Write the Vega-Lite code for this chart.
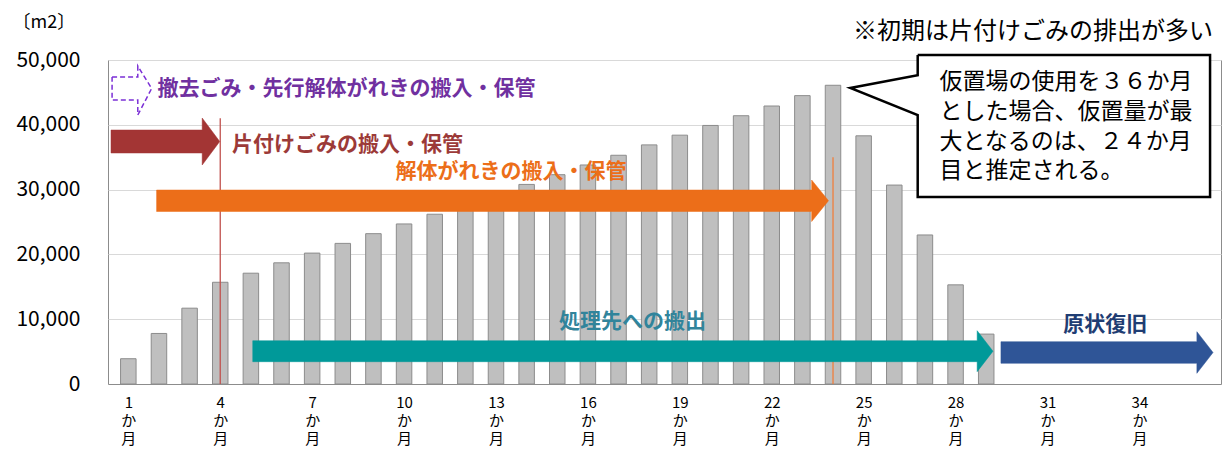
{
  "$schema": "https://vega.github.io/schema/vega-lite/v6.json",
  "width": 1113,
  "height": 324,
  "autosize": {"type": "none"},
  "padding": {"left": 108, "top": 60, "right": 2, "bottom": 68},
  "background": "white",
  "config": {
    "font": "Noto Sans CJK JP",
    "view": {"stroke": "#8c8c8c", "strokeWidth": 1}
  },
  "resolve": {"scale": {"color": "independent"}},
  "datasets": {
    "bars": [
      {"x": 1, "y": 3900}, {"x": 2, "y": 7800}, {"x": 3, "y": 11700}, {"x": 4, "y": 15700},
      {"x": 5, "y": 17100}, {"x": 6, "y": 18700}, {"x": 7, "y": 20200}, {"x": 8, "y": 21700},
      {"x": 9, "y": 23200}, {"x": 10, "y": 24700}, {"x": 11, "y": 26200}, {"x": 12, "y": 27700},
      {"x": 13, "y": 29200}, {"x": 14, "y": 30800}, {"x": 15, "y": 32300}, {"x": 16, "y": 33800},
      {"x": 17, "y": 35300}, {"x": 18, "y": 36900}, {"x": 19, "y": 38400}, {"x": 20, "y": 39900},
      {"x": 21, "y": 41400}, {"x": 22, "y": 42900}, {"x": 23, "y": 44500}, {"x": 24, "y": 46100},
      {"x": 25, "y": 38300}, {"x": 26, "y": 30700}, {"x": 27, "y": 23000}, {"x": 28, "y": 15300},
      {"x": 29, "y": 7700}
    ],
    "vlines": [
      {"x": 4, "y": 0, "y2": 41000, "k": "red"},
      {"x": 24, "y": 0, "y2": 35000, "k": "orange"}
    ],
    "arrows": [
      {"a": "purple", "i": 1, "x": 0.47, "y": 47376},
      {"a": "purple", "i": 2, "x": 1.309, "y": 47376},
      {"a": "purple", "i": 3, "x": 1.309, "y": 49074},
      {"a": "purple", "i": 4, "x": 1.761, "y": 45602},
      {"a": "purple", "i": 5, "x": 1.309, "y": 41512},
      {"a": "purple", "i": 6, "x": 1.309, "y": 43827},
      {"a": "purple", "i": 7, "x": 0.47, "y": 43827},
      {"a": "purple", "i": 8, "x": 0.47, "y": 47376},

      {"a": "red", "i": 1, "x": 0.435, "y": 39197},
      {"a": "red", "i": 2, "x": 3.411, "y": 39197},
      {"a": "red", "i": 3, "x": 3.411, "y": 41049},
      {"a": "red", "i": 4, "x": 3.984, "y": 37422},
      {"a": "red", "i": 5, "x": 3.411, "y": 33796},
      {"a": "red", "i": 6, "x": 3.411, "y": 35648},
      {"a": "red", "i": 7, "x": 0.435, "y": 35648},
      {"a": "red", "i": 8, "x": 0.435, "y": 39197},

      {"a": "orange", "i": 1, "x": 1.923, "y": 29938},
      {"a": "orange", "i": 2, "x": 23.303, "y": 29938},
      {"a": "orange", "i": 3, "x": 23.303, "y": 31481},
      {"a": "orange", "i": 4, "x": 23.853, "y": 28287},
      {"a": "orange", "i": 5, "x": 23.303, "y": 25077},
      {"a": "orange", "i": 6, "x": 23.303, "y": 26620},
      {"a": "orange", "i": 7, "x": 1.923, "y": 26620},
      {"a": "orange", "i": 8, "x": 1.923, "y": 29938},

      {"a": "teal", "i": 1, "x": 5.061, "y": 6682},
      {"a": "teal", "i": 2, "x": 28.705, "y": 6682},
      {"a": "teal", "i": 3, "x": 28.705, "y": 8225},
      {"a": "teal", "i": 4, "x": 29.222, "y": 5062},
      {"a": "teal", "i": 5, "x": 28.705, "y": 1898},
      {"a": "teal", "i": 6, "x": 28.705, "y": 3441},
      {"a": "teal", "i": 7, "x": 5.061, "y": 3441},
      {"a": "teal", "i": 8, "x": 5.061, "y": 6682},

      {"a": "blue", "i": 1, "x": 29.481, "y": 6528},
      {"a": "blue", "i": 2, "x": 35.876, "y": 6528},
      {"a": "blue", "i": 3, "x": 35.876, "y": 8071},
      {"a": "blue", "i": 4, "x": 36.403, "y": 4861},
      {"a": "blue", "i": 5, "x": 35.876, "y": 1651},
      {"a": "blue", "i": 6, "x": 35.876, "y": 3194},
      {"a": "blue", "i": 7, "x": 29.481, "y": 3194},
      {"a": "blue", "i": 8, "x": 29.481, "y": 6528},

      {"a": "callout", "i": 1, "x": 26.764, "y": 50771},
      {"a": "callout", "i": 2, "x": 36.306, "y": 50771},
      {"a": "callout", "i": 3, "x": 36.306, "y": 28858},
      {"a": "callout", "i": 4, "x": 26.764, "y": 28858},
      {"a": "callout", "i": 5, "x": 26.764, "y": 41512},
      {"a": "callout", "i": 6, "x": 24.565, "y": 45679},
      {"a": "callout", "i": 7, "x": 26.764, "y": 47654},
      {"a": "callout", "i": 8, "x": 26.764, "y": 50771}
    ],
    "labels": [
      {"k": "purple", "x": 1.956, "y": 45524, "text": "撤去ごみ・先行解体がれきの搬入・保管"},
      {"k": "red", "x": 4.381, "y": 36900, "text": "片付けごみの搬入・保管"},
      {"k": "orange", "x": 9.718, "y": 32716, "text": "解体がれきの搬入・保管"},
      {"k": "teal", "x": 15.055, "y": 9568, "text": "処理先への搬出"},
      {"k": "blue", "x": 31.518, "y": 9105, "text": "原状復旧"}
    ],
    "callout": [
      {"x": 27.476, "y": 46605, "text": "仮置場の使用を３６か月"},
      {"x": 27.476, "y": 41975, "text": "とした場合、仮置量が最"},
      {"x": 27.476, "y": 37345, "text": "大となるのは、２４か月"},
      {"x": 27.476, "y": 32870, "text": "目と推定される。"}
    ],
    "note": [
      {"x": 36.403, "y": 54321, "text": "※初期は片付けごみの排出が多い"}
    ]
  },
  "encoding": {
    "x": {
      "field": "x", "type": "quantitative",
      "scale": {"domain": [0.5, 36.5], "nice": false, "zero": false},
      "axis": {
        "title": null,
        "values": [1, 4, 7, 10, 13, 16, 19, 22, 25, 28, 31, 34],
        "labelExpr": "[format(datum.value, 'd'), 'か', '月']",
        "labelFontSize": 15,
        "labelLineHeight": 18,
        "labelBaseline": "top",
        "labelAngle": 0,
        "labelPadding": 11,
        "labelColor": "#000000",
        "labelFlush": false,
        "labelOverlap": false,
        "ticks": false,
        "grid": false,
        "domainColor": "#8c8c8c"
      }
    },
    "y": {
      "field": "y", "type": "quantitative",
      "scale": {"domain": [0, 50000], "nice": false, "zero": true},
      "axis": {
        "title": "〔m2〕",
        "titleAngle": 0,
        "titleX": -96,
        "titleY": -38,
        "titleAlign": "left",
        "titleBaseline": "middle",
        "titleFontSize": 18,
        "titleFontWeight": "normal",
        "titleColor": "#000000",
        "values": [0, 10000, 20000, 30000, 40000, 50000],
        "labelExpr": "format(datum.value, ',')",
        "labelFontSize": 21,
        "labelColor": "#000000",
        "labelPadding": 28,
        "labelFlush": false,
        "ticks": false,
        "domain": false,
        "grid": true,
        "gridColor": "#d9d9d9",
        "gridWidth": 1
      }
    }
  },
  "layer": [
    {
      "data": {"name": "bars"},
      "mark": {"type": "bar", "size": 15.5, "fill": "#bfbfbf", "stroke": "#8c8c8c", "strokeWidth": 1}
    },
    {
      "data": {"name": "vlines"},
      "mark": {"type": "rule", "strokeWidth": 1.3},
      "encoding": {
        "y2": {"field": "y2"},
        "color": {"field": "k", "type": "nominal", "legend": null,
          "scale": {"domain": ["red", "orange"], "range": ["#c0504d", "#f07f3c"]}}
      }
    },
    {
      "data": {"name": "arrows"},
      "transform": [{"filter": {"field": "a", "equal": "purple"}}],
      "mark": {"type": "line", "stroke": "#7b2fd6", "strokeWidth": 1.5, "strokeDash": [5, 3], "fill": null, "interpolate": "linear"},
      "encoding": {"order": {"field": "i", "type": "quantitative"}}
    },
    {
      "data": {"name": "arrows"},
      "transform": [{"filter": {"field": "a", "equal": "red"}}],
      "mark": {"type": "line", "stroke": "#a33534", "strokeWidth": 0.5, "fill": "#a33534"},
      "encoding": {"order": {"field": "i", "type": "quantitative"}}
    },
    {
      "data": {"name": "arrows"},
      "transform": [{"filter": {"field": "a", "equal": "orange"}}],
      "mark": {"type": "line", "stroke": "#ec6e19", "strokeWidth": 0.5, "fill": "#ec6e19"},
      "encoding": {"order": {"field": "i", "type": "quantitative"}}
    },
    {
      "data": {"name": "arrows"},
      "transform": [{"filter": {"field": "a", "equal": "teal"}}],
      "mark": {"type": "line", "stroke": "#009999", "strokeWidth": 0.5, "fill": "#009999"},
      "encoding": {"order": {"field": "i", "type": "quantitative"}}
    },
    {
      "data": {"name": "arrows"},
      "transform": [{"filter": {"field": "a", "equal": "blue"}}],
      "mark": {"type": "line", "stroke": "#2f5597", "strokeWidth": 0.5, "fill": "#2f5597"},
      "encoding": {"order": {"field": "i", "type": "quantitative"}}
    },
    {
      "data": {"name": "labels"},
      "mark": {"type": "text", "align": "left", "baseline": "middle", "fontSize": 21, "fontWeight": "bold"},
      "encoding": {
        "text": {"field": "text", "type": "nominal"},
        "color": {"field": "k", "type": "nominal", "legend": null,
          "scale": {"domain": ["purple", "red", "orange", "teal", "blue"],
                    "range": ["#7030a0", "#9c3a38", "#ec6e19", "#31849b", "#1f3d73"]}}
      }
    },
    {
      "data": {"name": "arrows"},
      "transform": [{"filter": {"field": "a", "equal": "callout"}}],
      "mark": {"type": "line", "stroke": "#000000", "strokeWidth": 2.5, "fill": "#ffffff", "strokeJoin": "miter"},
      "encoding": {"order": {"field": "i", "type": "quantitative"}}
    },
    {
      "data": {"name": "callout"},
      "mark": {"type": "text", "align": "left", "baseline": "middle", "fontSize": 23, "color": "#000000"},
      "encoding": {"text": {"field": "text", "type": "nominal"}}
    },
    {
      "data": {"name": "note"},
      "mark": {"type": "text", "align": "right", "baseline": "middle", "fontSize": 24, "color": "#000000"},
      "encoding": {"text": {"field": "text", "type": "nominal"}}
    }
  ]
}
